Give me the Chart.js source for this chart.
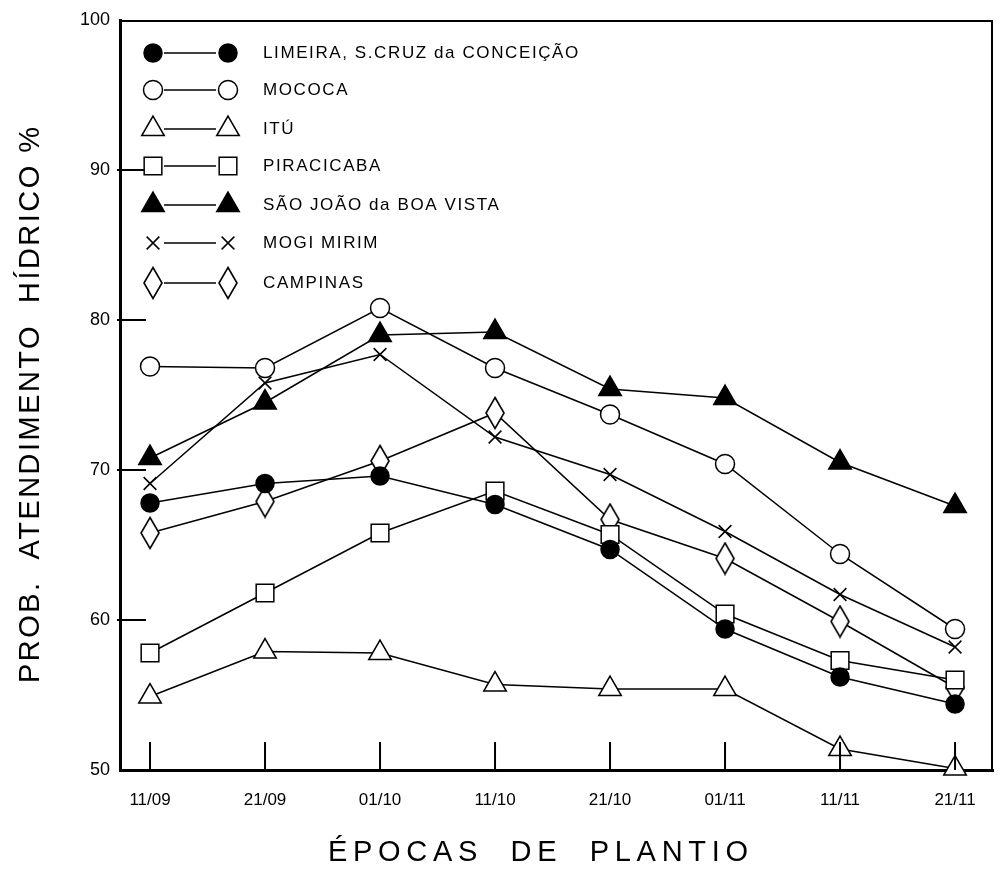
<!DOCTYPE html>
<html>
<head>
<meta charset="utf-8">
<script src="https://cdn.jsdelivr.net/npm/chart.js@4.4.1/dist/chart.umd.min.js"></script>
<style>
  body { margin: 0; background: #fff; }
  #wrap { width: 1000px; height: 877px; position: relative; }
</style>
</head>
<body>
<div id="wrap"><canvas id="lineChart"></canvas></div>
<script>
const categories = ["11/09", "21/09", "01/10", "11/10", "21/10", "01/11", "11/11", "21/11"];
const yTicks = [50, 60, 70, 80, 90, 100];

const limeira = [67.8, 69.1, 69.6, 67.7, 64.7, 59.4, 56.2, 54.4];
const mococa = [76.9, 76.8, 80.8, 76.8, 73.7, 70.4, 64.4, 59.4];
const itu = [54.9, 57.9, 57.8, 55.7, 55.4, 55.4, 51.4, 50.1];
const piracicaba = [57.8, 61.8, 65.8, 68.6, 65.7, 60.4, 57.3, 56.0];
const saoJoao = [70.8, 74.5, 79.0, 79.2, 75.4, 74.8, 70.5, 67.6];
const mogiMirim = [69.1, 75.8, 77.7, 72.2, 69.7, 65.9, 61.7, 58.2];
const campinas = [65.8, 67.9, 70.6, 73.8, 66.7, 64.1, 59.9, 55.5];

const FONT = "'Liberation Sans', Arial, sans-serif";

// tall diamond marker for Campinas
const diamond = document.createElement("canvas");
diamond.width = 22;
diamond.height = 34;
(function () {
  const c = diamond.getContext("2d");
  c.beginPath();
  c.moveTo(11, 1.5);
  c.lineTo(20, 17);
  c.lineTo(11, 32.5);
  c.lineTo(2, 17);
  c.closePath();
  c.fillStyle = "#fff";
  c.fill();
  c.lineWidth = 1.6;
  c.strokeStyle = "#000";
  c.stroke();
})();

function series(label, values, style, radius, fill) {
  return {
    label: label,
    data: values.map((v, i) => ({ x: i, y: v })),
    borderColor: "#000",
    borderWidth: 1.5,
    pointStyle: style,
    pointRadius: radius,
    pointHoverRadius: radius,
    pointBackgroundColor: fill,
    pointBorderColor: "#000",
    pointBorderWidth: 1.5,
    tension: 0,
    clip: false,
  };
}

const datasets = [
  series("LIMEIRA, S.CRUZ da CONCEIÇÃO", limeira, "circle", 9, "#000"),
  series("MOCOCA", mococa, "circle", 9.5, "#fff"),
  series("ITÚ", itu, "triangle", 13, "#fff"),
  series("PIRACICABA", piracicaba, "rect", 12.5, "#fff"),
  series("SÃO JOÃO da BOA VISTA", saoJoao, "triangle", 13, "#000"),
  series("MOGI MIRIM", mogiMirim, "crossRot", 9, "#000"),
  series("CAMPINAS", campinas, diamond, 12, "#fff"),
];

const legendRows = [53, 90, 129, 166, 205, 243, 283];

const paperPlugin = {
  id: "paper",
  afterDraw(chart) {
    const ctx = chart.ctx;
    const a = chart.chartArea;
    const xs = chart.scales.x;
    const ys = chart.scales.y;
    ctx.save();
    ctx.strokeStyle = "#000";
    // top and right frame
    ctx.lineWidth = 2;
    ctx.beginPath();
    ctx.moveTo(a.left, a.top + 1);
    ctx.lineTo(a.right - 1, a.top + 1);
    ctx.lineTo(a.right - 1, a.bottom);
    ctx.stroke();
    // inward ticks
    ctx.lineWidth = 2;
    ctx.beginPath();
    yTicks.slice(1, -1).forEach((v) => {
      const y = ys.getPixelForValue(v);
      ctx.moveTo(a.left - 3, y);
      ctx.lineTo(a.left + 26, y);
    });
    categories.forEach((c, i) => {
      const x = xs.getPixelForValue(i);
      ctx.moveTo(x, a.bottom);
      ctx.lineTo(x, a.bottom - 28);
    });
    ctx.stroke();

    // legend
    ctx.font = "17px " + FONT;
    ctx.letterSpacing = "1.6px";
    ctx.textBaseline = "middle";
    ctx.textAlign = "left";
    chart.data.datasets.forEach((ds, i) => {
      const y = legendRows[i];
      ctx.lineWidth = 1.5;
      ctx.beginPath();
      ctx.moveTo(164, y);
      ctx.lineTo(216, y);
      ctx.stroke();
      [153, 228].forEach((x) => {
        ctx.fillStyle = ds.pointBackgroundColor;
        ctx.strokeStyle = "#000";
        Chart.helpers.drawPoint(ctx, {
          pointStyle: ds.pointStyle,
          radius: ds.pointRadius,
          borderWidth: 1.5,
          rotation: 0,
        }, x, y);
      });
      ctx.fillStyle = "#000";
      ctx.fillText(ds.label, 263, y);
    });

    // axis titles with spread lettering
    ctx.font = "29px " + FONT;
    ctx.fillStyle = "#000";
    ctx.textAlign = "left";
    const spread = (text, width) => {
      ctx.letterSpacing = "0px";
      const w = ctx.measureText(text).width;
      return Math.max(0, (width - w) / (text.length - 1));
    };
    const xt = "ÉPOCAS  DE  PLANTIO";
    ctx.letterSpacing = spread(xt, 420) + "px";
    ctx.fillText(xt, 328, 853);

    const yt = "PROB.  ATENDIMENTO  HÍDRICO %";
    const ls = spread(yt, 556);
    ctx.translate(31, 683);
    ctx.rotate(-Math.PI / 2);
    ctx.letterSpacing = ls + "px";
    ctx.fillText(yt, 0, 0);
    ctx.restore();
  },
};

const ctz = document.getElementById("lineChart");
const canvas = ctz.getContext("2d");

const lineChart = new Chart(canvas, {
  type: "line",
  data: { datasets: datasets },
  options: {
    responsive: true,
    maintainAspectRatio: false,
    animation: false,
    layout: { autoPadding: false, padding: { top: 20, right: 7, left: 0, bottom: 0 } },
    plugins: {
      legend: { display: false },
      tooltip: { enabled: false },
    },
    scales: {
      x: {
        type: "linear",
        min: -0.261,
        max: 7.33,
        afterFit: (s) => { s.height = 107; s.paddingLeft = 0; s.paddingRight = 0; },
        afterBuildTicks: (s) => { s.ticks = categories.map((c, i) => ({ value: i })); },
        grid: { display: false, drawTicks: false },
        border: { display: true, color: "#000", width: 3 },
        ticks: {
          padding: 20,
          color: "#000",
          maxRotation: 0,
          autoSkip: false,
          font: { family: FONT, size: 17 },
          callback: (v) => categories[v],
        },
      },
      y: {
        min: 50,
        max: 100,
        afterFit: (s) => { s.width = 120; s.paddingTop = 0; s.paddingBottom = 0; },
        afterBuildTicks: (s) => { s.ticks = yTicks.map((v) => ({ value: v })); },
        grid: { display: false, drawTicks: false },
        border: { display: true, color: "#000", width: 3 },
        ticks: {
          padding: 10,
          color: "#000",
          font: { family: FONT, size: 18 },
        },
      },
    },
  },
  plugins: [paperPlugin],
});
</script>
</body>
</html>
